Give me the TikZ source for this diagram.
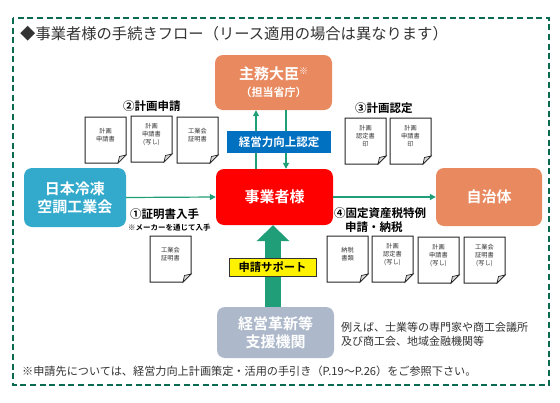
\documentclass[tikz,border=0pt]{standalone}
\usepackage{fontspec}
\setmainfont{Noto Sans CJK JP}[BoldFont={Noto Sans CJK JP Bold}]
\usetikzlibrary{arrows.meta,calc}
\definecolor{framegreen}{HTML}{0B6B50}
\definecolor{arrowgreen}{HTML}{1F9E77}
\definecolor{orangebox}{HTML}{E9895F}
\definecolor{bluebox}{HTML}{33AACC}
\definecolor{greybox}{HTML}{ADB9CA}
\definecolor{bandblue}{HTML}{0070C0}
\definecolor{txt}{HTML}{333333}
\newcommand{\fs}[1]{\fontsize{#1}{#1}\selectfont}
\newcommand{\docfont}{\fontsize{6.2}{8}\selectfont}
\newcommand{\paperdoc}[4]{%
  \draw[draw=black!85,line width=1pt,fill=white]
    (#2,#3) -- ++(41,0) -- ++(0,38) -- ++(-8,8) -- ++(-33,0) -- cycle;
  \draw[draw=black!85,line width=.7pt,fill=black!15]
    ($(#2,#3)+(41,38)$) -- ++(-6.5,1.5) -- ++(-1.5,6.5) -- cycle;
  \node[doctext] (#1) at ($(#2,#3)+(20.5,18.5)$) {#4};
}
\tikzset{
  x=1pt,y=-1pt,
  boxbase/.style={rounded corners=8pt,text=white,font=\bfseries\fs{15},align=center,inner sep=0pt},
  doctext/.style={align=center,inner sep=0pt,text=black!80,font=\docfont},
  head/.style={inner sep=0pt,anchor=west,text=black,font=\bfseries\fs{11.5}},
  flow/.style={draw=arrowgreen,line width=1.2pt,-{Triangle[length=6pt,width=6pt]}},
  plain/.style={inner sep=0pt,anchor=west,text=txt},
}
\begin{document}
\begin{tikzpicture}
\useasboundingbox (0,0) rectangle (560,402);
\fill[white] (0,0) rectangle (560,402);
\draw[framegreen,line width=1.8pt,dash pattern=on 6pt off 3.6pt] (13,18) rectangle (549,385);
\node[plain,font=\fs{15.3}] (title) at (20,34) {◆事業者様の手続きフロー（リース適用の場合は異なります）};
% main boxes
\node[boxbase,fill=orangebox,minimum width=117pt,minimum height=55pt] (minister) at (273.5,82.5)
  {\fs{15}主務大臣\raisebox{5pt}{\fontseries{m}\selectfont\fs{9}※}\\[2pt]\fs{11}（担当省庁）};
\node[boxbase,fill=red,minimum width=117pt,minimum height=56pt] (biz) at (274.5,197) {事業者様};
\node[boxbase,fill=bluebox,minimum width=102pt,minimum height=59pt] (assoc) at (75,197.5) {日本冷凍\\[3pt]空調工業会};
\node[boxbase,fill=orangebox,minimum width=106pt,minimum height=58pt] (city) at (489,197) {自治体};
\node[boxbase,fill=greybox,minimum width=117pt,minimum height=51pt] (support) at (275.5,332.5) {経営革新等\\[3pt]支援機関};
% connectors
\coordinate (upx) at (256,0);
\coordinate (downx) at (286,0);
\coordinate (bigx) at (273,0);
\draw[flow] (biz.north -| upx) -- (minister.south -| upx);
\draw[flow] (minister.south -| downx) -- (biz.north -| downx);
\draw[flow] (assoc.east) -- (biz.west);
\draw[flow] (biz.east) -- (city.west);
\draw[draw=arrowgreen,line width=15.5pt,-{Triangle[length=16pt,width=32pt]}] (support.north -| bigx) -- (biz.south -| bigx);
% bands
\node[fill=bandblue,text=white,font=\bfseries\fs{11.5},minimum width=104pt,minimum height=22pt,inner sep=0pt] (approval) at (279,142) {経営力向上認定};
\node[fill=yellow,draw=black!80,line width=.8pt,text=black,font=\bfseries\fs{11.3},minimum width=87pt,minimum height=18pt,inner sep=0pt] (apply) at (272.5,267) {申請サポート};
% headings
\node[head] (h2) at (123,106) {②計画申請};
\node[head] (h3) at (355,108) {③計画認定};
\node[head] (h1) at (130,214) {①証明書入手};
\node[inner sep=0pt,anchor=west,text=black,font=\bfseries\fs{7.5}] (h1n) at (128,228) {※メーカーを通じて入手};
\node[head] (h4) at (334,213) {④固定資産税特例};
\node[head] (h4b) at (345,227) {申請・納税};
% documents
\paperdoc{d1}{85}{117}{計画\\申請書}
\paperdoc{d2}{131}{116}{計画\\申請書\\(写し)}
\paperdoc{d3}{177}{117}{工業会\\証明書}
\paperdoc{d4}{345}{118}{計画\\認定書\\印}
\paperdoc{d5}{390}{118}{計画\\申請書\\印}
\paperdoc{d6}{150}{236}{工業会\\証明書}
\paperdoc{d7}{327}{236}{納税\\書類}
\paperdoc{d8}{372}{236}{計画\\認定書\\(写し)}
\paperdoc{d9}{418}{237}{計画\\申請書\\(写し)}
\paperdoc{d10}{464}{237}{工業会\\証明書\\(写し)}
% notes
\node[plain,font=\fs{11}] (ex1) at (341,327) {例えば、士業等の専門家や商工会議所};
\node[plain,font=\fs{11}] (ex2) at (341,341) {及び商工会、地域金融機関等};
\node[plain,font=\fs{11.15}] (foot) at (22,371) {※申請先については、経営力向上計画策定・活用の手引き（P.19～P.26）をご参照下さい。};
\end{tikzpicture}
\end{document}
